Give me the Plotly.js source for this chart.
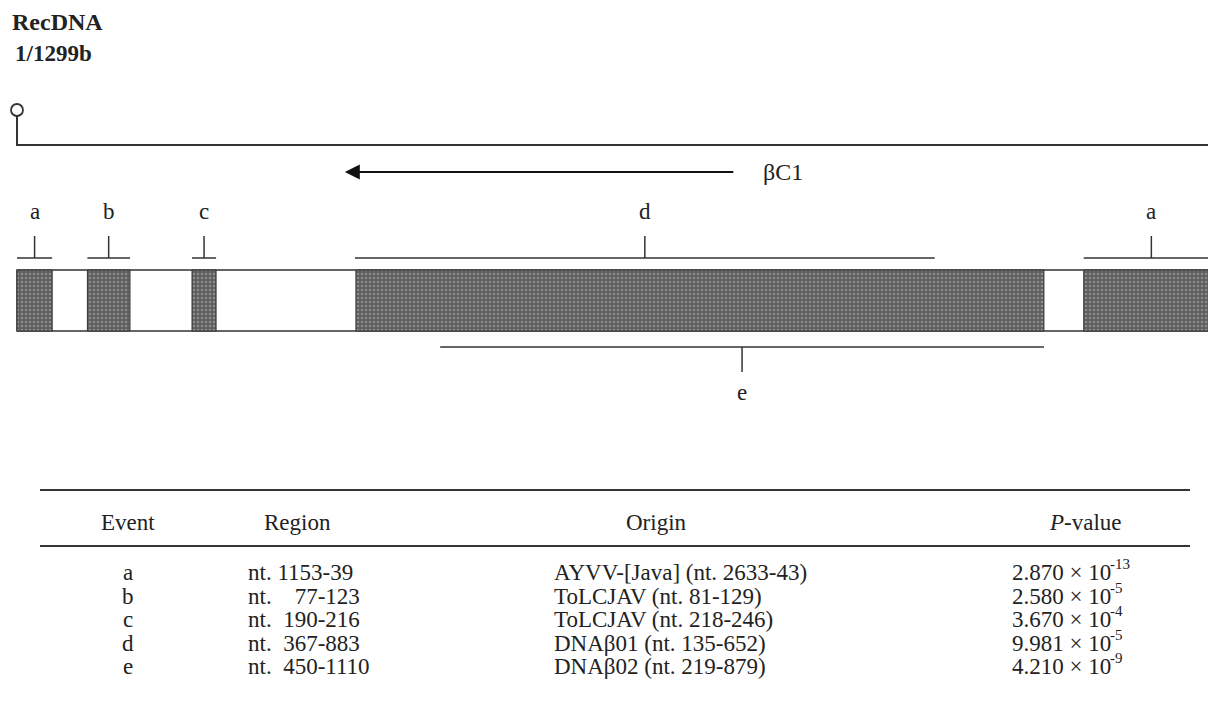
<!DOCTYPE html>
<html>
<head>
<meta charset="utf-8">
<script src="https://cdn.plot.ly/plotly-3.0.1.min.js"></script>
<style>html,body{margin:0;padding:0;background:#fff;}#chart{width:1208px;height:709px;}</style>
</head>
<body>
<div id="chart"></div>
<script>
// ---- data (nucleotide positions) ----
const genomeLength = 1299;
const segStart = [1, 77, 190, 367, 1153];
const segEnd = [39, 123, 216, 1110, 1299];
const bracketNames = ['a', 'b', 'c', 'd', 'e', 'a'];
const bracketStart = [1, 77, 190, 366, 458, 1153];
const bracketEnd = [39, 123, 216, 992, 1110, 1299];
const bracketSide = ['top', 'top', 'top', 'top', 'bottom', 'top'];
const geneName = 'βC1';
const geneStart = 773;
const geneEnd = 355;

const tableHeaders = ['Event', 'Region', 'Origin', '<i>P</i>-value'];
const tableEvents = ['a', 'b', 'c', 'd', 'e'];
const tableRegions = ['nt. 1153-39', 'nt.\u00a0\u00a0\u00a0 77-123', 'nt.\u00a0 190-216', 'nt.\u00a0 367-883', 'nt.\u00a0 450-1110'];
const tableOrigins = ['AYVV-[Java] (nt. 2633-43)', 'ToLCJAV (nt. 81-129)', 'ToLCJAV (nt. 218-246)', 'DNAβ01 (nt. 135-652)', 'DNAβ02 (nt. 219-879)'];
const pMantissa = ['2.870', '2.580', '3.670', '9.981', '4.210'];
const pExponent = ['-13', '-5', '-4', '-5', '-9'];

// ---- styling / layout ----
const W = 1208, H = 709;
const FONT = 'Liberation Serif, Times New Roman, serif';
const TXT = '#222';
const LINE = '#333';
const pxPerNt = 0.926, ntOffsetPx = 17;
const xr = [1 - ntOffsetPx / pxPerNt, 1 + (W - ntOffsetPx) / pxPerNt];
const FS = 23;

const barTop = 270, barBot = 331;
const shapes = [];
const annotations = [];

// genome outline
shapes.push({type: 'rect', xref: 'x', yref: 'y', x0: 1, x1: genomeLength, y0: barTop, y1: barBot,
  line: {color: LINE, width: 1.5}, fillcolor: '#fff', layer: 'below'});

// brackets
for (let i = 0; i < bracketNames.length; i++) {
  const top = bracketSide[i] === 'top';
  const yb = top ? 258 : 347;
  const yt = top ? 236 : 372;
  const mid = (bracketStart[i] + bracketEnd[i]) / 2;
  shapes.push({type: 'line', xref: 'x', yref: 'y', x0: bracketStart[i], x1: bracketEnd[i], y0: yb, y1: yb, line: {color: LINE, width: 1.5}});
  shapes.push({type: 'line', xref: 'x', yref: 'y', x0: mid, x1: mid, y0: yb, y1: yt, line: {color: LINE, width: 1.5}});
  annotations.push({xref: 'x', yref: 'y', x: mid, y: top ? 211 : 392, xanchor: 'center', text: bracketNames[i], showarrow: false,
    font: {family: FONT, size: FS, color: TXT}});
}

// gene arrow with its label at the tail
annotations.push({xref: 'x', yref: 'y', x: geneEnd, y: 172, axref: 'x', ayref: 'y', ax: geneStart + 55, ay: 172,
  text: geneName, showarrow: true, arrowhead: 2, arrowsize: 1.5, arrowwidth: 2, arrowcolor: '#111',
  startstandoff: 28, font: {family: FONT, size: 24, color: TXT}});

// titles
annotations.push({xref: 'paper', yref: 'y', x: 10 / W, y: 22, xanchor: 'left', text: '<b>RecDNA</b>', showarrow: false,
  font: {family: FONT, size: 24, color: TXT}});
annotations.push({xref: 'paper', yref: 'y', x: 13 / W, y: 53, xanchor: 'left', text: '<b>1/' + genomeLength + 'b</b>', showarrow: false,
  font: {family: FONT, size: 23, color: TXT}});

// table
const tL = 40 / W, tR = 1190 / W;
shapes.push({type: 'line', xref: 'paper', yref: 'y', x0: tL, x1: tR, y0: 490, y1: 490, line: {color: LINE, width: 2}});
shapes.push({type: 'line', xref: 'paper', yref: 'y', x0: tL, x1: tR, y0: 546, y1: 546, line: {color: LINE, width: 2}});
const headX = [128, 297, 656, 1085];
tableHeaders.forEach((h, i) => annotations.push({xref: 'paper', yref: 'y', x: headX[i] / W, y: 522, xanchor: 'center',
  text: h, showarrow: false, font: {family: FONT, size: FS, color: TXT}}));
const rowY = [572, 596, 619, 643, 666];
for (let r = 0; r < tableEvents.length; r++) {
  const f = {family: FONT, size: FS, color: TXT};
  annotations.push({xref: 'paper', yref: 'y', x: 128 / W, y: rowY[r], xanchor: 'center', text: tableEvents[r], showarrow: false, font: f});
  annotations.push({xref: 'paper', yref: 'y', x: 246 / W, y: rowY[r], xanchor: 'left', text: tableRegions[r], showarrow: false, font: f});
  annotations.push({xref: 'paper', yref: 'y', x: 552 / W, y: rowY[r], xanchor: 'left', text: tableOrigins[r], showarrow: false, font: f});
  annotations.push({xref: 'paper', yref: 'y', x: 1010 / W, y: rowY[r], xanchor: 'left',
    text: pMantissa[r] + ' × 10', showarrow: false, font: f});
  annotations.push({xref: 'paper', yref: 'y', x: 1108 / W, y: rowY[r] - 8, xanchor: 'left',
    text: pExponent[r], showarrow: false, font: {family: FONT, size: 15, color: TXT}});
}

const traces = [
  { // recombinant segments
    type: 'bar', orientation: 'h',
    y: segStart.map(() => (barTop + barBot) / 2),
    base: segStart,
    x: segStart.map((s, i) => segEnd[i] - s),
    width: barBot - barTop,
    marker: {color: '#5e5e5e', line: {color: '#333', width: 1},
      pattern: {shape: '.', fgcolor: '#8d8d8d', bgcolor: '#5e5e5e', size: 4, solidity: 0.35}},
    hoverinfo: 'skip', showlegend: false
  },
  { // genome line
    type: 'scatter', mode: 'lines',
    x: [1, 1, genomeLength], y: [116, 145, 145],
    line: {color: LINE, width: 2}, hoverinfo: 'skip', showlegend: false
  },
  { // origin circle
    type: 'scatter', mode: 'markers',
    x: [1], y: [110],
    marker: {symbol: 'circle', size: 12, color: '#fff', line: {color: LINE, width: 1.8}},
    hoverinfo: 'skip', showlegend: false
  }
];

const layout = {
  width: W, height: H,
  margin: {l: 0, r: 0, t: 0, b: 0},
  paper_bgcolor: '#fff', plot_bgcolor: '#fff',
  xaxis: {range: xr, visible: false, fixedrange: true},
  yaxis: {range: [H, 0], visible: false, fixedrange: true},
  shapes: shapes,
  annotations: annotations,
  showlegend: false,
  bargap: 0
};

Plotly.newPlot('chart', traces, layout, {staticPlot: true, displayModeBar: false});
</script>
</body>
</html>
